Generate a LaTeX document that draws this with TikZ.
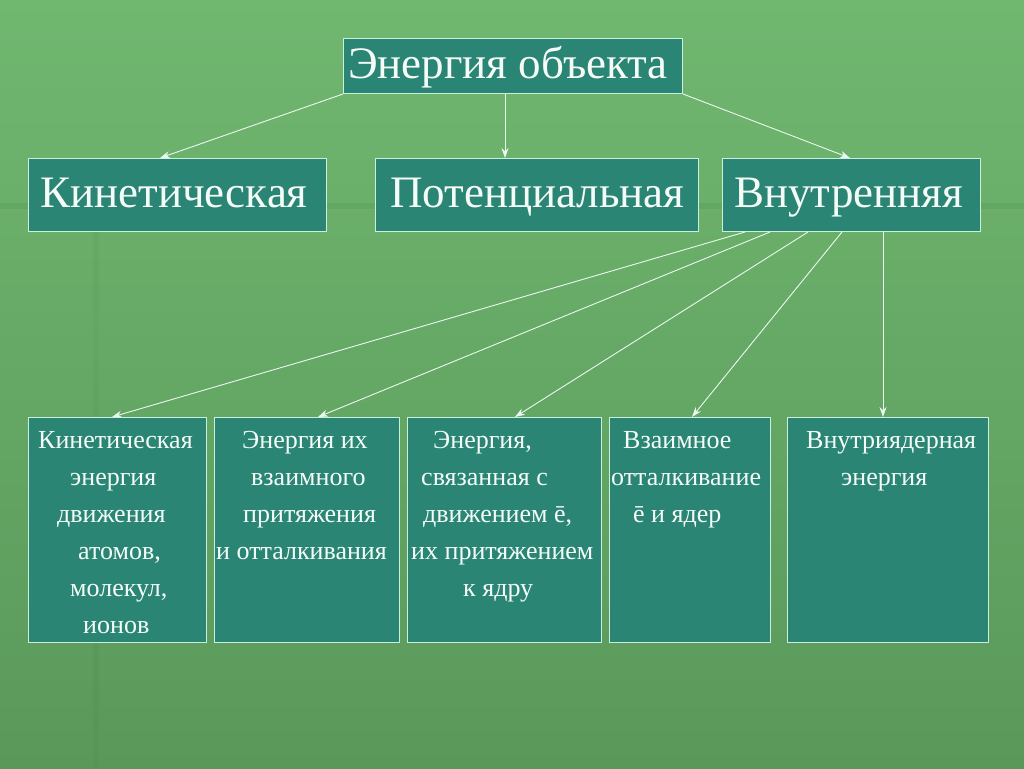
\documentclass[tikz,border=0pt]{standalone}
\usepackage{fontspec}
\setmainfont{Liberation Serif}
\usetikzlibrary{calc,arrows.meta}
\definecolor{bgtop}{RGB}{112,183,112}
\definecolor{bgbot}{RGB}{90,152,90}
\definecolor{boxfill}{RGB}{42,133,116}
\definecolor{boxline}{RGB}{200,240,220}
\definecolor{txt}{RGB}{245,252,248}
\definecolor{conn}{RGB}{235,248,240}
\tikzset{
  box/.style={draw=boxline, line width=1pt, fill=boxfill, anchor=north west, inner sep=0pt},
  big/.style={text=txt, font=\fontsize{45}{50}\selectfont, inner sep=0pt, anchor=base west},
  small/.style={text=txt, font=\fontsize{26}{37}\selectfont, align=left, anchor=north west, inner sep=0pt},
  conn/.style={draw=conn, line width=0.9pt, -{Stealth[length=10pt,width=7pt]}}
}
\begin{document}
\begin{tikzpicture}[x=1pt,y=-1pt]
\useasboundingbox (0,0) rectangle (1024,768);
\shade[top color=bgtop, bottom color=bgbot] (0,0) rectangle (1024,768);
\fill[black, opacity=0.05] (0,203) rectangle (1024,209);
\fill[black, opacity=0.025] (93,209) rectangle (99,768);

% top
\node[box, minimum width=339pt, minimum height=55pt] (top) at (343,38) {};
\node[big] (toptxt) at (348,78) {Энергия объекта};

% middle row
\node[box, minimum width=298pt, minimum height=73pt] (kin) at (28,158) {};
\node[big] (kintxt) at (40,207) {Кинетическая};
\node[box, minimum width=323pt, minimum height=73pt] (pot) at (375,158) {};
\node[big] (pottxt) at (390,207) {Потенциальная};
\node[box, minimum width=258pt, minimum height=73pt] (int) at (722,158) {};
\node[big] (inttxt) at (734,207) {Внутренняя};

% bottom row
\node[box, minimum width=178pt, minimum height=225pt] (b1) at (28,417) {};
\node[box, minimum width=185pt, minimum height=225pt] (b2) at (214,417) {};
\node[box, minimum width=194pt, minimum height=225pt] (b3) at (407,417) {};
\node[box, minimum width=161pt, minimum height=225pt] (b4) at (609,417) {};
\node[box, minimum width=201pt, minimum height=225pt] (b5) at (787,417) {};

\node[small] (t1) at (38,431) {Кинетическая\\\hspace*{32pt}энергия\\\hspace*{19pt}движения\\\hspace*{40pt}атомов,\\\hspace*{32pt}молекул,\\\hspace*{45pt}ионов};
\node[small] (t2) at (216,431) {\hspace*{26pt}Энергия их\\\hspace*{35pt}взаимного\\\hspace*{27pt}притяжения\\и отталкивания};
\node[small] (t3) at (411,431) {\hspace*{22pt}Энергия,\\\hspace*{10pt}связанная с\\\hspace*{12pt}движением ē,\\их притяжением\\\hspace*{52pt}к ядру};
\node[small] (t4) at (611,431) {\hspace*{12pt}Взаимное\\отталкивание\\\hspace*{22pt}ē и ядер};
\node[small] (t5) at (806,431) {Внутриядерная\\\hspace*{35pt}энергия};

% connectors
\draw[conn] (top.south west) -- ([xshift=132pt]kin.north west);
\draw[conn] ([xshift=162pt]top.south west) -- ([xshift=130pt]pot.north west);
\draw[conn] (top.south east) -- ([xshift=128pt]int.north west);

\draw[conn] ([xshift=23pt]int.south west) -- ([xshift=84pt]b1.north west);
\draw[conn] ([xshift=48pt]int.south west) -- ([xshift=104pt]b2.north west);
\draw[conn] ([xshift=86pt]int.south west) -- ([xshift=108pt]b3.north west);
\draw[conn] ([xshift=120pt]int.south west) -- ([xshift=83pt]b4.north west);
\draw[conn] ([xshift=161pt]int.south west) -- ([xshift=96pt]b5.north west);
\end{tikzpicture}
\end{document}
